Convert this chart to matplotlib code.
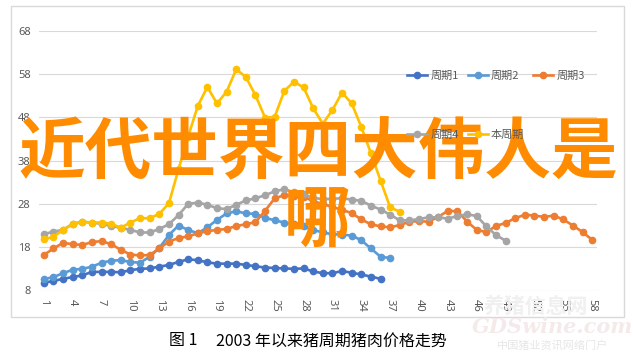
import matplotlib.pyplot as plt
from matplotlib.patches import Rectangle

plt.rcParams['font.family'] = ['Noto Sans CJK SC', 'DejaVu Sans']

# -----------------------------
# Data
# -----------------------------

cycle1 = [9.8, 10.2, 10.7, 11.1, 11.5, 12.3, 12.3, 12.3, 12.2, 12.7,
          13.0, 13.1, 13.5, 13.9, 14.6, 15.2, 15.0, 14.5, 14.2, 14.2,
          14.2, 13.9, 13.6, 13.3, 13.2, 13.1, 13.0, 13.1, 12.4, 12.0,
          12.0, 12.5, 12.1, 11.7, 11.2, 10.7]

cycle2 = [10.6, 11.1, 12.0, 12.8, 13.0, 13.5, 14.4, 14.9, 15.0, 14.6,
          14.4, 15.8, 17.8, 20.8, 23.0, 22.0, 21.2, 22.6, 24.3, 25.8,
          26.3, 25.8, 25.7, 24.8, 24.2, 23.7, 23.3, 22.8, 22.0, 21.4,
          21.0, 20.9, 20.7, 19.6, 17.7, 15.8, 15.5]

cycle3 = [16.2, 17.7, 19.0, 18.7, 18.5, 19.2, 19.4, 18.7, 17.4, 16.3,
          16.1, 16.2, 17.7, 19.3, 20.1, 20.5, 21.2, 21.7, 22.0, 22.2,
          22.9, 23.3, 23.8, 26.4, 29.3, 30.0, 29.8, 29.7, 28.6, 28.0,
          27.3, 26.6, 25.9, 24.4, 23.3, 22.8, 22.6, 23.1, 23.9, 24.0,
          23.9, 25.0, 26.4, 26.3, 23.9, 22.0, 21.5, 22.9, 23.6, 24.7,
          25.5, 25.3, 25.0, 25.3, 24.4, 23.0, 21.5, 19.7]

cycle4 = [21.0, 21.6, 22.0, 23.4, 23.9, 23.7, 23.4, 22.9, 22.5, 22.0,
          21.4, 21.4, 22.2, 23.3, 25.4, 28.0, 28.3, 27.8, 27.0, 26.8,
          27.8, 28.8, 29.3, 30.0, 30.9, 31.4, 30.7, 30.2, 29.4, 29.1,
          29.2, 29.3, 29.0, 28.7, 27.6, 26.7, 25.5, 24.2, 24.2, 24.5,
          24.9, 24.9, 24.6, 25.2, 25.6, 25.2, 22.8, 20.8, 19.5]

current = [19.8, 20.4, 22.0, 23.3, 23.8, 23.7, 23.7, 23.4, 22.5, 23.7,
           24.7, 24.7, 25.7, 28.1, 36.0, 43.5, 50.6, 55.0, 51.2, 53.9,
           59.1, 57.3, 53.1, 47.9, 48.1, 54.1, 56.2, 54.9, 50.1, 46.5,
           49.7, 53.7, 51.2, 45.8, 39.7, 33.4, 27.2, 26.2]

series_names = ["周期1", "周期2", "周期3", "周期4", "本周期"]
series_values = [cycle1, cycle2, cycle3, cycle4, current]
colors = ["#4472C4", "#5B9BD5", "#ED7D31", "#A5A5A5", "#FFC000"]

y_ticks = [8, 18, 28, 38, 48, 58, 68]
x_ticks = list(range(1, 59, 3))

caption_no = "图 1"
caption = "2003 年以来猪周期猪肉价格走势"
overlay_line1 = "近代世界四大伟人是"
overlay_line2 = "哪"

# -----------------------------
# Figure
# -----------------------------

W, H = 634, 358
fig = plt.figure(figsize=(W / 100, H / 100), dpi=100)

# chart frame
fig.patches.append(
    Rectangle((11 / W, 1 - 317 / H), 613 / W, 311 / H,
              transform=fig.transFigure, fill=False,
              ec="#D9D9D9", lw=1)
)

ax = fig.add_axes([39 / W, 1 - 290.5 / H, 558 / W, 259.8 / H])

lines = []
for name, vals, c in zip(series_names, series_values, colors):
    xs = range(1, len(vals) + 1)
    ln, = ax.plot(xs, vals, color=c, lw=1.9, marker="o", ms=4.5,
                  label=name, clip_on=False)
    lines.append(ln)

ax.set_xlim(0.5, 58.5)
ax.set_ylim(8, 68)
ax.set_yticks(y_ticks)
ax.set_xticks(x_ticks)
ax.tick_params(length=0, colors="#595959", labelsize=8, pad=6)
for lab in ax.get_xticklabels() + ax.get_yticklabels():
    lab.set_family("Noto Sans")
for lab in ax.get_xticklabels():
    lab.set_rotation(-90)
ax.grid(axis="y", color="#D9D9D9", lw=0.8)
ax.set_axisbelow(True)
for s in ax.spines.values():
    s.set_visible(False)

# legend filled row by row: 周期1 周期2 周期3 / 周期4 本周期
order = [0, 3, 1, 4, 2]
leg = fig.legend(
    [lines[i] for i in order], [series_names[i] for i in order],
    loc="upper left",
    bbox_to_anchor=(407 / W, 1 - 71 / H),
    ncol=3, frameon=False, fontsize=8,
    handlelength=1.8, handletextpad=0.3, columnspacing=0.8,
    labelspacing=4.35, borderpad=0, borderaxespad=0,
)
for t in leg.get_texts():
    t.set_color("#595959")

# caption
fig.text(169 / W, 1 - 341 / H, caption_no, ha="left", va="center",
         fontsize=11.5, color="black")
fig.text(216 / W, 1 - 341 / H, caption, ha="left", va="center",
         fontsize=11.5, color="black")

# watermark
fig.text(536 / W, 1 - 306 / H, "养猪信息网", ha="center", va="center",
         fontsize=15, color="#F0F0F0", weight="bold")
fig.text(553 / W, 1 - 327 / H, "GDSwine.com", ha="center", va="center",
         fontsize=15, color="#F5EAEA", weight="bold", style="italic",
         family="DejaVu Serif")
fig.text(553 / W, 1 - 345 / H, "中国猪业资讯网络门户", ha="center",
         va="center", fontsize=8, color="#E6E6E6")

# overlay title
fig.text(318 / W, 1 - 153.5 / H, overlay_line1, ha="center", va="center",
         fontsize=48, color="#FF8C00", weight="bold")
fig.text(317 / W, 1 - 221 / H, overlay_line2, ha="center", va="center",
         fontsize=48, color="#FF8C00", weight="bold")

fig.savefig("out.png", dpi=100)
